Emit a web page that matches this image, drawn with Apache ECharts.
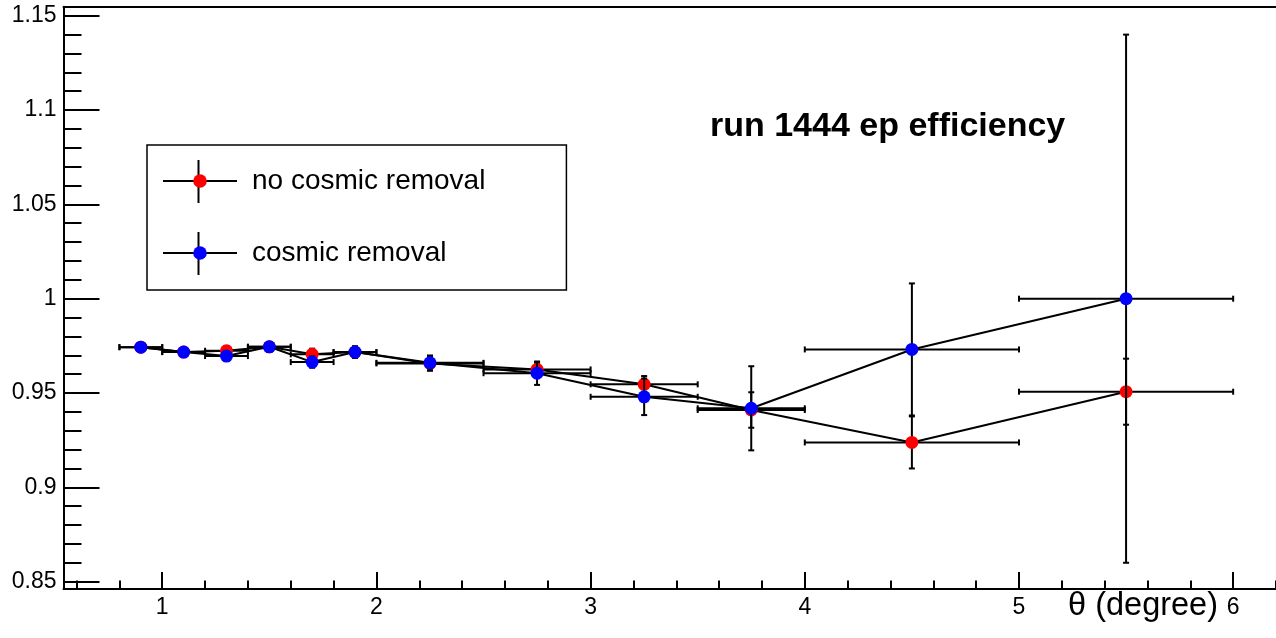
<!DOCTYPE html>
<html><head><meta charset="utf-8">
<script src="https://cdn.jsdelivr.net/npm/echarts@6/dist/echarts.min.js"></script>
<style>html,body{margin:0;padding:0;background:#fff}#c{width:1276px;height:638px}</style>
</head><body><div id="c"></div>
<script>
// ---- data ----
const thetaCenters    = [0.9, 1.1, 1.3, 1.5, 1.7, 1.9, 2.25, 2.75, 3.25, 3.75, 4.5, 5.5];
const thetaHalfWidths = [0.1, 0.1, 0.1, 0.1, 0.1, 0.1, 0.25, 0.25, 0.25, 0.25, 0.5, 0.5];
const noRemovalEff = [0.9743, 0.9717, 0.9724, 0.9745, 0.9705, 0.9717, 0.9657, 0.9625, 0.9546, 0.9410, 0.9238, 0.9507];
const noRemovalErr = [0.0020, 0.0020, 0.0025, 0.0025, 0.0030, 0.0030, 0.0039, 0.0035, 0.0044, 0.0094, 0.0138, 0.0175];
const removalEff   = [0.9743, 0.9717, 0.9696, 0.9745, 0.9664, 0.9717, 0.9660, 0.9605, 0.9480, 0.9419, 0.9731, 1.0000];
const removalErr   = [0.0020, 0.0020, 0.0025, 0.0025, 0.0030, 0.0030, 0.0039, 0.0062, 0.0097, 0.0223, 0.0350, 0.1400];

const seriesNames = ['no cosmic removal', 'cosmic removal'];
const titleText = 'run 1444 ep efficiency';
const xTitle = 'θ (degree)';

// ---- ticks ----
const xMajorTicks = [1, 2, 3, 4, 5, 6];
const xMinorTicks = [0.6, 0.8, 1.2, 1.4, 1.6, 1.8, 2.2, 2.4, 2.6, 2.8, 3.2, 3.4, 3.6, 3.8,
                     4.2, 4.4, 4.6, 4.8, 5.2, 5.4, 5.6, 5.8, 6.2];
const yMajorTicks = [0.85, 0.9, 0.95, 1, 1.05, 1.1, 1.15];
const yMinorTicks = [0.86, 0.87, 0.88, 0.89, 0.91, 0.92, 0.93, 0.94, 0.96, 0.97, 0.98, 0.99,
                     1.01, 1.02, 1.03, 1.04, 1.06, 1.07, 1.08, 1.09, 1.11, 1.12, 1.13, 1.14];
const xRange = [0.539, 6.2];
const yRange = [0.8461, 1.1548];

const FONT = "'Liberation Sans', Arial, Helvetica, sans-serif";
const BLACK = '#000';

function errorBars(name, eff, err, z) {
  return {
    type: 'custom', name: name + ' errors', z: z, silent: true,
    xAxisIndex: 0, yAxisIndex: 0, clip: false,
    data: thetaCenters.map((x, i) => [x, eff[i], thetaHalfWidths[i], err[i]]),
    encode: { x: 0, y: 1 },
    renderItem: function (params, api) {
      const x = api.value(0), y = api.value(1), dx = api.value(2), dy = api.value(3);
      const pL = api.coord([x - dx, y]), pR = api.coord([x + dx, y]);
      const pT = api.coord([x, y + dy]), pB = api.coord([x, y - dy]);
      const c = 3;
      const st = { stroke: BLACK, lineWidth: 2 };
      const ln = (x1, y1, x2, y2) => ({ type: 'line', shape: { x1, y1, x2, y2 }, style: st });
      return { type: 'group', children: [
        ln(pL[0], pL[1], pR[0], pR[1]),
        ln(pT[0], pT[1], pB[0], pB[1]),
        ln(pL[0], pL[1] - c, pL[0], pL[1] + c),
        ln(pR[0], pR[1] - c, pR[0], pR[1] + c),
        ln(pT[0] - c, pT[1], pT[0] + c, pT[1]),
        ln(pB[0] - c, pB[1], pB[0] + c, pB[1])
      ]};
    }
  };
}

function points(name, eff, color, z) {
  return {
    type: 'line', name: name, z: z,
    xAxisIndex: 0, yAxisIndex: 0,
    data: thetaCenters.map((x, i) => [x, eff[i]]),
    symbol: 'circle', symbolSize: 13, showSymbol: true,
    lineStyle: { color: BLACK, width: 2 },
    itemStyle: { color: color, borderWidth: 0 },
    emphasis: { disabled: true }
  };
}

const chart = echarts.init(document.getElementById('c'), null, { renderer: 'canvas' });
chart.setOption({
  animation: false,
  backgroundColor: '#fff',
  textStyle: { fontFamily: FONT, color: BLACK },
  title: {
    text: titleText, left: 710, top: 110, padding: 0,
    textStyle: { fontFamily: FONT, fontSize: 34, fontWeight: 'bold', color: BLACK, lineHeight: 34 }
  },
  legend: {
    data: seriesNames, orient: 'vertical', left: 147, top: 145,
    padding: [18, 81, 19, 15], itemGap: 36,
    itemWidth: 74, itemHeight: 17,
    borderColor: BLACK, borderWidth: 1.5, backgroundColor: 'transparent',
    selectedMode: false,
    textStyle: { fontFamily: FONT, fontSize: 28, color: BLACK, lineHeight: 30, padding: [6, 0, 0, 10] }
  },
  graphic: [
    { type: 'line', z: 1, shape: { x1: 198.5, y1: 160, x2: 198.5, y2: 203 }, style: { stroke: BLACK, lineWidth: 2 } },
    { type: 'line', z: 1, shape: { x1: 198.5, y1: 232, x2: 198.5, y2: 275 }, style: { stroke: BLACK, lineWidth: 2 } }
  ],
  grid: { left: 63.5, right: 0, top: 6.7, bottom: 49, containLabel: false, outerBoundsMode: 'none' },
  xAxis: [
    {
      type: 'value', min: xRange[0], max: xRange[1], position: 'bottom',
      axisLine: { show: true, onZero: false, lineStyle: { color: BLACK, width: 2 } },
      axisTick: { show: true, inside: true, length: 17, customValues: xMajorTicks, lineStyle: { color: BLACK, width: 2 } },
      axisLabel: { show: true, customValues: xMajorTicks, fontSize: 23, color: BLACK, margin: 7, fontFamily: FONT },
      splitLine: { show: false },
      name: xTitle, nameLocation: 'end', nameGap: -58, nameMoveOverlap: false,
      nameTextStyle: { fontFamily: FONT, fontSize: 32.5, color: BLACK, align: 'right', verticalAlign: 'top', lineHeight: 34 }
    },
    {
      type: 'value', min: xRange[0], max: xRange[1], position: 'bottom',
      axisLine: { show: false },
      axisTick: { show: true, inside: true, length: 8.5, customValues: xMinorTicks, lineStyle: { color: BLACK, width: 2 } },
      axisLabel: { show: false }, splitLine: { show: false }
    },
    {
      type: 'value', min: xRange[0], max: xRange[1], position: 'top',
      axisLine: { show: true, onZero: false, lineStyle: { color: BLACK, width: 2 } },
      axisTick: { show: false }, axisLabel: { show: false }, splitLine: { show: false }
    }
  ],
  yAxis: [
    {
      type: 'value', min: yRange[0], max: yRange[1], position: 'left',
      axisLine: { show: true, onZero: false, lineStyle: { color: BLACK, width: 2 } },
      axisTick: { show: true, inside: true, length: 36, customValues: yMajorTicks, lineStyle: { color: BLACK, width: 2 } },
      axisLabel: { show: true, customValues: yMajorTicks, fontSize: 23, color: BLACK, margin: 7, fontFamily: FONT },
      splitLine: { show: false }
    },
    {
      type: 'value', min: yRange[0], max: yRange[1], position: 'left',
      axisLine: { show: false },
      axisTick: { show: true, inside: true, length: 18, customValues: yMinorTicks, lineStyle: { color: BLACK, width: 2 } },
      axisLabel: { show: false }, splitLine: { show: false }
    }
  ],
  series: [
    errorBars(seriesNames[0], noRemovalEff, noRemovalErr, 2),
    points(seriesNames[0], noRemovalEff, '#ff0000', 3),
    errorBars(seriesNames[1], removalEff, removalErr, 4),
    points(seriesNames[1], removalEff, '#0000ff', 5)
  ]
});
</script>
</body></html>
